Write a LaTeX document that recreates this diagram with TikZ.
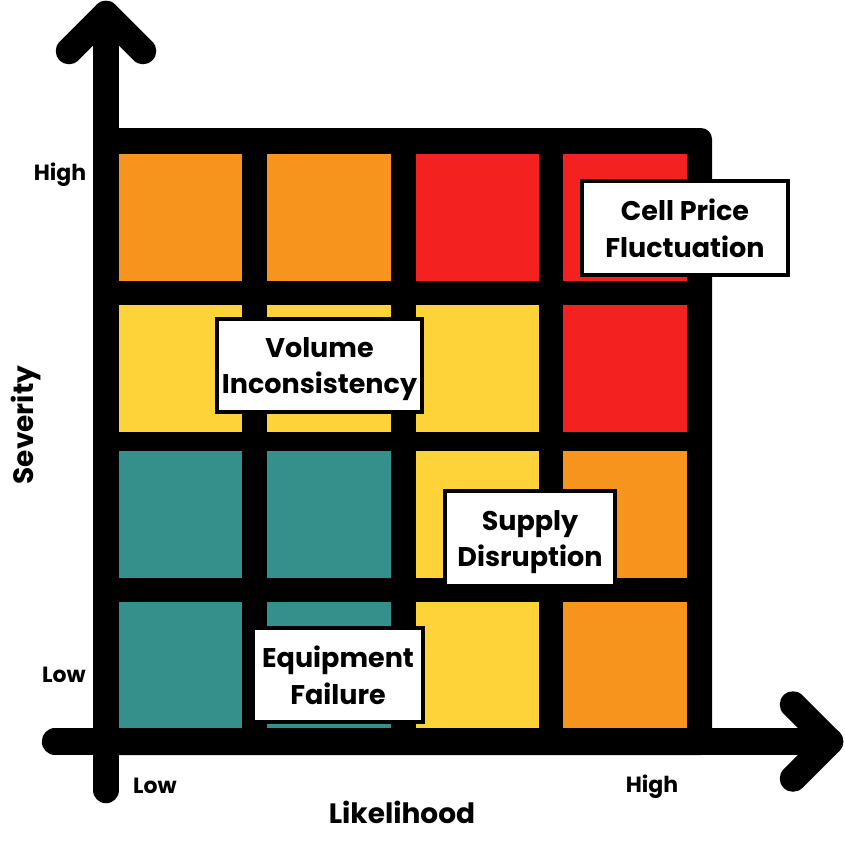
\documentclass[tikz,border=0pt]{standalone}
\usepackage{fontspec}
\setmainfont{Poppins}
\definecolor{cOrange}{HTML}{F7941E}
\definecolor{cRed}{HTML}{F42121}
\definecolor{cYellow}{HTML}{FED339}
\definecolor{cTeal}{HTML}{358F8B}
\begin{document}
\begin{tikzpicture}[x=1pt,y=-1pt,
  axisline/.style={line width=26.5pt, line cap=round, line join=round, black},
  lbl/.style={draw=black, line width=4pt, fill=white, inner sep=0pt, align=center,
    text depth=0pt, font=\bfseries\fontsize{27}{36.5}\selectfont},
  ticklbl/.style={anchor=base, inner sep=0pt, font=\bfseries\fontsize{22}{26}\selectfont},
  axislbl/.style={anchor=base, inner sep=0pt, font=\bfseries\fontsize{28}{32}\selectfont}]
\useasboundingbox (0,0) rectangle (845,841);
% black grid background
\fill[black, rounded corners=11pt] (93,128) rectangle (712,755);
% cells: columns x [119,242] [267,391] [416,539] [563,687]; rows y [154,281] [305,432] [451,578] [602,728]
% row 1
\fill[cOrange] (119,154) rectangle (242,281);
\fill[cOrange] (267,154) rectangle (391,281);
\fill[cRed]    (416,154) rectangle (539,281);
\fill[cRed]    (563,154) rectangle (687,281);
% row 2
\fill[cYellow] (119,305) rectangle (242,432);
\fill[cYellow] (267,305) rectangle (391,432);
\fill[cYellow] (416,305) rectangle (539,432);
\fill[cRed]    (563,305) rectangle (687,432);
% row 3
\fill[cTeal]   (119,451) rectangle (242,578);
\fill[cTeal]   (267,451) rectangle (391,578);
\fill[cYellow] (416,451) rectangle (539,578);
\fill[cOrange] (563,451) rectangle (687,578);
% row 4
\fill[cTeal]   (119,602) rectangle (242,728);
\fill[cTeal]   (267,602) rectangle (391,728);
\fill[cYellow] (416,602) rectangle (539,728);
\fill[cOrange] (563,602) rectangle (687,728);
% axes
\coordinate (ybot) at (106,790);
\coordinate (ytip) at (106,14);
\coordinate (yarmL) at (69,51);
\coordinate (yarmR) at (143,51);
\coordinate (xleft) at (55,741.5);
\coordinate (xtip) at (830,741.5);
\coordinate (xarmU) at (793,704.5);
\coordinate (xarmD) at (793,778.5);
\draw[axisline] (ybot) -- (ytip);
\draw[axisline] (yarmL) -- (ytip) -- (yarmR);
\draw[axisline] (xleft) -- (xtip);
\draw[axisline] (xarmU) -- (xtip) -- (xarmD);
% labels in boxes
\node[lbl, minimum width=206pt, minimum height=94pt] (cell) at (685,228) {Cell Price\\Fluctuation};
\node[lbl, minimum width=205pt, minimum height=93pt] (vol) at (319.5,365.5) {Volume\\Inconsistency};
\node[lbl, minimum width=170pt, minimum height=95pt] (sup) at (530,538.5) {Supply\\Disruption};
\node[lbl, minimum width=170pt, minimum height=94pt] (equ) at (338,675) {Equipment\\Failure};
% tick labels
\node[ticklbl] (yhigh) at (60,180) {High};
\node[ticklbl] (ylow) at (64,682) {Low};
\node[ticklbl] (xlow) at (155,793) {Low};
\node[ticklbl] (xhigh) at (652,792) {High};
% axis titles
\node[axislbl] (xtitle) at (402,823) {Likelihood};
\node[axislbl, rotate=90] (ytitle) at (33,425) {Severity};
\end{tikzpicture}
\end{document}
